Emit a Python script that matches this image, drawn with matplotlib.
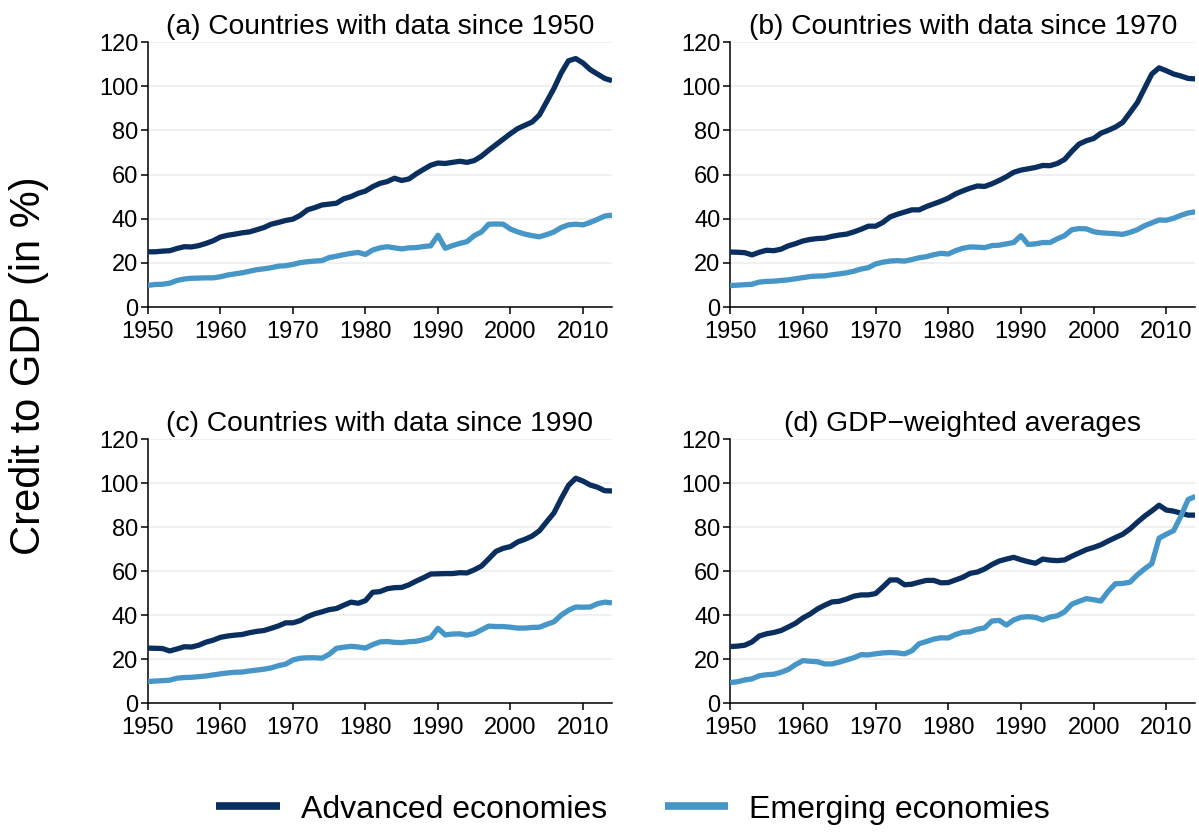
import numpy as np
import matplotlib
matplotlib.use("Agg")
import matplotlib.pyplot as plt

plt.rcParams['font.family'] = ['Liberation Sans', 'DejaVu Sans']

years = np.arange(1950, 2015)

# (a) countries with data since 1950
adv_a = [25, 25, 25.3, 25.5, 26.5, 27.3, 27.2, 27.8, 28.8, 30,
         31.7, 32.5, 33, 33.6, 34, 35, 36, 37.5, 38.3, 39.2,
         39.8, 41.5, 44, 45, 46.2, 46.6, 47, 49, 50, 51.5,
         52.5, 54.5, 56, 56.8, 58.3, 57.3, 58, 60.3, 62.3, 64.2,
         65.2, 65, 65.5, 66, 65.5, 66.3, 68.3, 71, 73.5, 76,
         78.5, 80.8, 82.3, 83.8, 87, 93, 99, 106, 111.5, 112.5,
         110.5, 107.5, 105.5, 103.5, 102.5]
emg_a = [9.8, 10.2, 10.3, 10.8, 12, 12.7, 13, 13.1, 13.2, 13.2,
         13.7, 14.5, 15, 15.5, 16.2, 16.9, 17.3, 17.8, 18.5, 18.7,
         19.3, 20.1, 20.5, 20.8, 21, 22.4, 23, 23.7, 24.3, 24.7,
         23.8, 25.8, 26.8, 27.3, 26.8, 26.3, 26.8, 26.9, 27.4, 27.7,
         32.5, 26.6, 27.8, 28.8, 29.6, 32.3, 34, 37.5, 37.6, 37.5,
         35.3, 34, 33, 32.3, 31.8, 32.8, 34, 36, 37.2, 37.5,
         37.2, 38.3, 39.7, 41.2, 41.6]

# (b) countries with data since 1970
adv_b = [24.9, 24.8, 24.6, 23.6, 24.8, 25.7, 25.5, 26.2, 27.7, 28.7,
         29.9, 30.6, 31, 31.2, 32, 32.6, 33, 34, 35.2, 36.6,
         36.6, 38.3, 40.8, 42, 43, 44, 44, 45.5, 46.7, 47.9,
         49.3, 51.2, 52.6, 53.8, 54.8, 54.6, 55.8, 57.3, 59, 61,
         62, 62.6, 63.2, 64.1, 64, 65, 66.8, 70.5, 73.8, 75.3,
         76.3, 78.7, 80, 81.5, 83.6, 88, 92.5, 99, 105.5, 108.3,
         107, 105.5, 104.6, 103.5, 103.3]
emg_b = [9.7, 9.9, 10.1, 10.3, 11.3, 11.6, 11.7, 12, 12.3, 12.8,
         13.3, 13.8, 14, 14.1, 14.6, 15, 15.5, 16.2, 17.2, 17.8,
         19.5, 20.3, 20.8, 21, 20.8, 21.5, 22.3, 22.8, 23.7, 24.3,
         24, 25.5, 26.6, 27.2, 27.1, 26.9, 27.8, 28, 28.6, 29.2,
         32.3, 28.3, 28.6, 29.2, 29.2, 30.9, 32.3, 35, 35.5, 35.4,
         34.1, 33.6, 33.4, 33.2, 32.9, 33.8, 35, 36.8, 38.1, 39.4,
         39.3, 40.2, 41.5, 42.6, 43.1]

# (c) countries with data since 1990
adv_c = [25, 24.9, 24.8, 23.7, 24.6, 25.6, 25.5, 26.3, 27.7, 28.6,
         29.9, 30.5, 30.9, 31.2, 32, 32.6, 33, 34, 35.1, 36.5,
         36.5, 37.5, 39.3, 40.6, 41.5, 42.5, 43, 44.5, 45.9, 45.4,
         46.6, 50.4, 50.7, 52, 52.5, 52.6, 53.8, 55.5, 57, 58.7,
         58.8, 58.9, 58.9, 59.3, 59.2, 60.6, 62.3, 65.6, 69, 70.4,
         71.2, 73.3, 74.5, 76, 78.4, 82.5, 86.5, 93, 99, 102.3,
         101, 99.2, 98.2, 96.6, 96.5]
emg_c = [9.8, 10, 10.2, 10.4, 11.3, 11.6, 11.7, 12, 12.3, 12.8,
         13.3, 13.7, 14, 14.1, 14.6, 15, 15.4, 16, 17, 17.7,
         19.6, 20.4, 20.6, 20.6, 20.4, 22.2, 24.9, 25.4, 25.8, 25.5,
         25, 26.6, 27.8, 28, 27.6, 27.5, 27.9, 28.1, 28.8, 29.8,
         34, 31, 31.4, 31.5, 30.9, 31.6, 33.3, 35, 34.8, 34.8,
         34.5, 34.1, 34.1, 34.4, 34.5, 35.8, 37, 40, 42.2, 43.7,
         43.6, 43.7, 45.2, 45.9, 45.6]

# (d) GDP-weighted averages
adv_d = [25.7, 25.9, 26.3, 27.8, 30.5, 31.5, 32.1, 33, 34.6, 36.3,
         38.7, 40.5, 42.8, 44.5, 46, 46.3, 47.3, 48.6, 49.2, 49.2,
         49.8, 52.8, 56, 56, 53.8, 54.1, 55, 55.8, 55.8, 54.7,
         54.8, 56, 57.2, 59, 59.6, 61, 63, 64.6, 65.5, 66.3,
         65.2, 64.3, 63.6, 65.5, 65, 64.8, 65.1, 66.8, 68.3, 69.8,
         70.8, 72, 73.7, 75.3, 76.8, 79.2, 82.2, 85, 87.4, 90,
         87.8, 87.3, 86.4, 85.5, 85.5]
emg_d = [9.3, 9.7, 10.5, 11, 12.4, 12.9, 13.1, 14, 15.3, 17.5,
         19.3, 19, 18.8, 17.8, 17.8, 18.6, 19.6, 20.6, 22, 21.9,
         22.4, 22.8, 23, 22.8, 22.4, 23.8, 27, 28, 29.1, 29.7,
         29.6, 31.2, 32.2, 32.4, 33.6, 34.2, 37.3, 37.6, 35.5, 37.8,
         39, 39.3, 39, 37.8, 39.1, 39.7, 41.5, 45, 46.3, 47.5,
         47, 46.4, 50.8, 54.3, 54.4, 55, 58.3, 61, 63.4, 75,
         76.8, 78.4, 85, 92.6, 94]

titles = ["(a) Countries with data since 1950",
          "(b) Countries with data since 1970",
          "(c) Countries with data since 1990",
          "(d) GDP\u2212weighted averages"]
panels = [(adv_a, emg_a), (adv_b, emg_b), (adv_c, emg_c), (adv_d, emg_d)]

dark = "#0a2f5f"
light = "#4696c8"

fig = plt.figure(figsize=(11.99, 8.32), dpi=100)
# axes boxes in figure fractions
boxes = [[0.1234, 0.631, 0.387, 0.3185],
         [0.609, 0.631, 0.388, 0.3185],
         [0.1234, 0.155, 0.387, 0.317],
         [0.609, 0.155, 0.388, 0.317]]

for box, title, (adv, emg) in zip(boxes, titles, panels):
    ax = fig.add_axes(box)
    ax.plot(years, adv, color=dark, lw=3.8, solid_capstyle='butt', label="Advanced economies", zorder=3)
    ax.plot(years, emg, color=light, lw=3.8, solid_capstyle='butt', label="Emerging economies", zorder=3)
    ax.set_xlim(1950, 2014)
    ax.set_ylim(0, 120)
    ax.set_xticks(range(1950, 2011, 10))
    ax.set_yticks(range(0, 121, 20))
    ax.grid(axis='y', color='#eeeeee', lw=1.2, zorder=0)
    for s in ['top', 'right']:
        ax.spines[s].set_visible(False)
    for s in ['left', 'bottom']:
        ax.spines[s].set_linewidth(1.1)
    ax.tick_params(labelsize=17, length=5, width=1.1)
    ax.tick_params(axis='x', pad=5)
    ax.tick_params(axis='y', pad=2)
    ax.set_title(title, fontsize=20.3, pad=6)

fig.text(0.024, 0.56, "Credit to GDP (in %)", rotation=90, fontsize=30,
         ha='center', va='center')

handles, labels = ax.get_legend_handles_labels()
leg = fig.legend(handles, labels, loc='center', bbox_to_anchor=(0.528, 0.027),
                 ncol=2, frameon=False, fontsize=23, handlelength=2.0,
                 handletextpad=0.65, columnspacing=1.8)
for ln in leg.get_lines():
    ln.set_linewidth(5.5)

fig.savefig("out.png", dpi=100)
